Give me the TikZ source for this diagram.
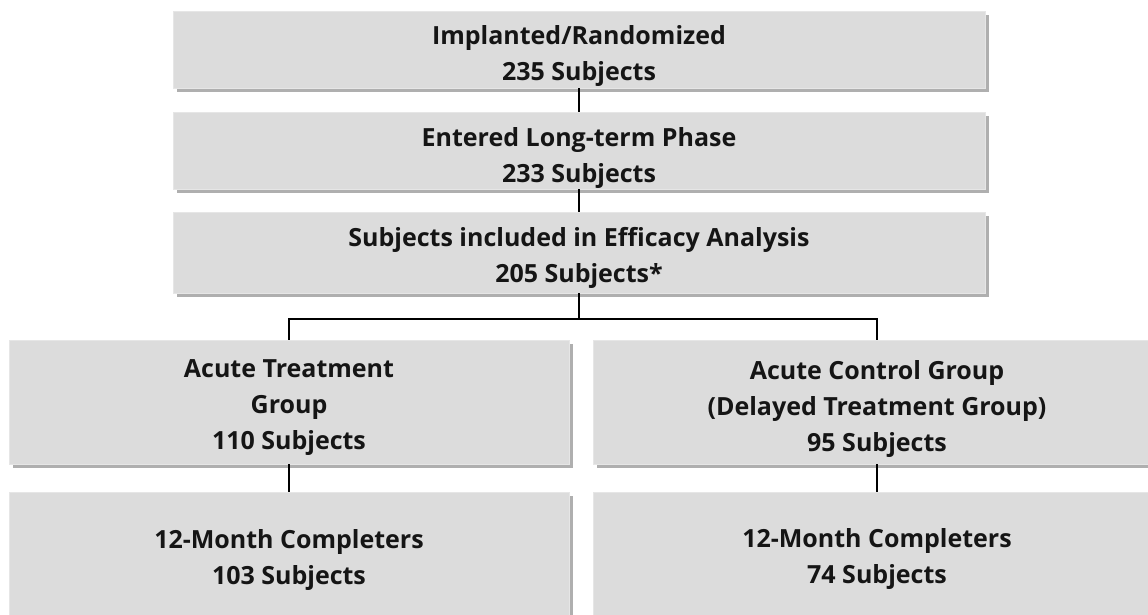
\documentclass[tikz,border=0pt]{standalone}
\usepackage{fontspec}
\setmainfont{Open Sans}
\definecolor{boxgray}{HTML}{DCDCDC}
\definecolor{shadowgray}{HTML}{AFAFAF}
\definecolor{edgegray}{HTML}{E6E6E6}
\definecolor{ink}{HTML}{151515}
\begin{document}
\begin{tikzpicture}[x=1pt,y=-1pt,
  box/.style={rectangle, inner sep=0pt, fill=boxgray, draw=edgegray, line width=0.8pt,
    preaction={fill=shadowgray, draw=none, transform canvas={shift={(4pt,-4pt)}}}},
  lbl/.style={align=center, inner sep=0pt, text=ink,
    font=\fontsize{25}{36}\selectfont\bfseries},
  link/.style={draw=black, line width=2pt}]
\useasboundingbox (0,0) rectangle (1148,614);

% stacked boxes of the main column
\node[box, minimum width=812pt, minimum height=77pt] (b1) at (579,49.5) {};
\node[box, minimum width=812pt, minimum height=77pt] (b2) at (579,150.5) {};
\node[box, minimum width=812pt, minimum height=81pt] (b3) at (579,252.5) {};
% the two arms
\node[box, minimum width=560pt, minimum height=124pt] (b4) at (289,402) {};
\node[box, minimum width=568pt, minimum height=124pt] (b5) at (877,402) {};
\node[box, minimum width=560pt, minimum height=130pt] (b6) at (289,557) {};
\node[box, minimum width=568pt, minimum height=130pt] (b7) at (877,557) {};

% texts
\node[lbl] (t1) at (579,56.5) {Implanted/Randomized\\235 Subjects};
\node[lbl] (t2) at (579,157.5) {Entered Long-term Phase\\233 Subjects};
\node[lbl] (t3) at (579,258) {Subjects included in Efficacy Analysis\\205 Subjects*};
\node[lbl] (t4) at (289,408) {Acute Treatment\\Group\\110 Subjects};
\node[lbl] (t5) at (877,409) {Acute Control Group\\(Delayed Treatment Group)\\95 Subjects};
\node[lbl] (t6) at (289,560) {12-Month Completers\\103 Subjects};
\node[lbl] (t7) at (877,559) {12-Month Completers\\74 Subjects};

% connectors
\coordinate (split) at (579,319);
\path[link] (b1.south) -- (b2.north);
\path[link] (b2.south) -- (b3.north);
\path[link] (b3.south) -- (split);
\path[link] (b4.north) |- (split) -| (b5.north);
\path[link] (b4.south) -- (b6.north);
\path[link] (b5.south) -- (b7.north);
\end{tikzpicture}
\end{document}
